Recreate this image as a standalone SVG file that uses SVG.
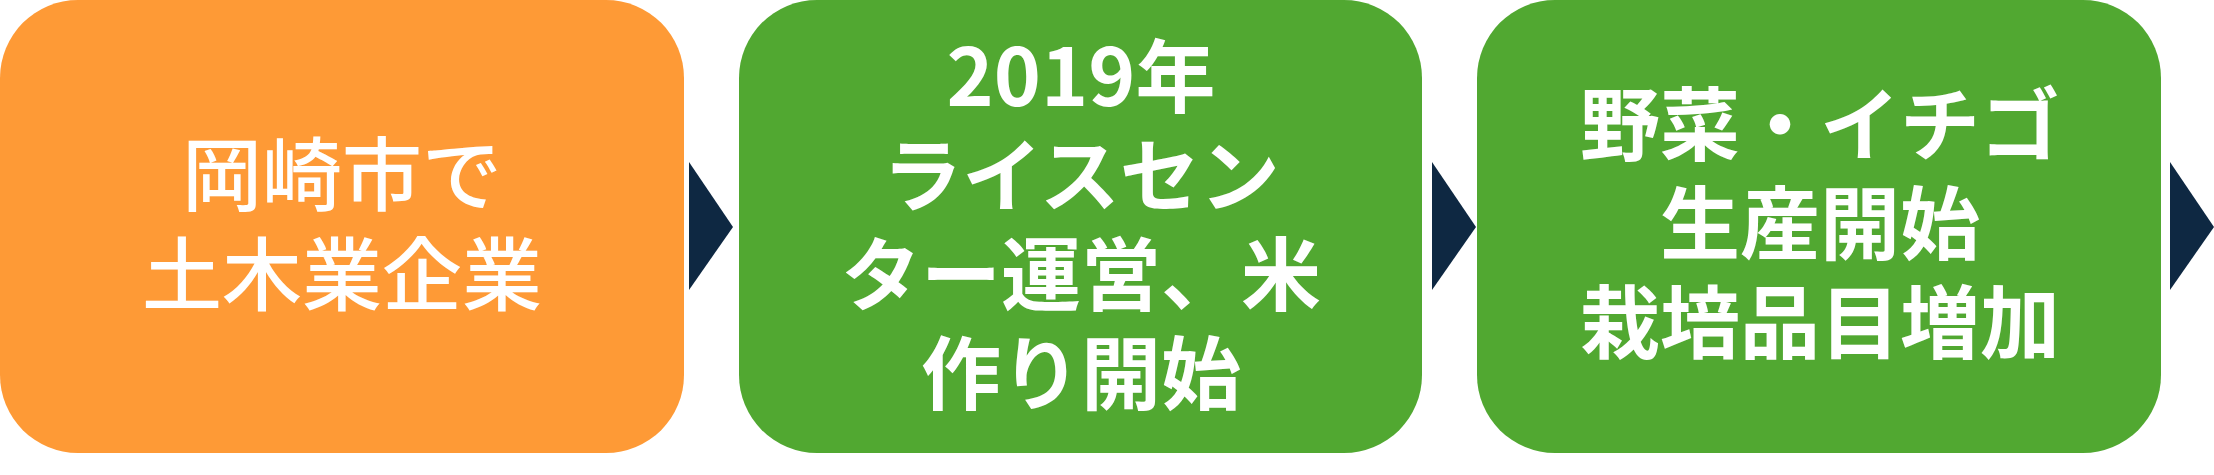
<svg xmlns="http://www.w3.org/2000/svg" width="2214" height="475" viewBox="0 0 2214 475">
  <style>
    .lbl { font-family: "Noto Sans CJK JP", "Noto Sans", sans-serif; font-size: 80px; fill: #FFFFFF; text-anchor: middle; }
    .reg { font-weight: 500; }
    .bold { font-weight: 700; }
    .orange { fill: #FE9A36; }
    .green { fill: #51A831; }
    .arrow { fill: #0E2842; }
  </style>
  <rect width="2214" height="475" fill="#FFFFFF"/>
  <g id="node1">
    <rect class="orange" x="0" y="0" width="684" height="453" rx="78" ry="78"/>
    <text class="lbl reg" x="342" y="204">岡崎市で</text>
    <text class="lbl reg" x="342" y="304">土木業企業</text>
  </g>
  <g id="node2">
    <rect class="green" x="739" y="0" width="683" height="453" rx="78" ry="78"/>
    <text class="lbl bold" x="1081" y="106">2019年</text>
    <text class="lbl bold" x="1081" y="205">ライスセン</text>
    <text class="lbl bold" x="1081" y="304">ター運営、米</text>
    <text class="lbl bold" x="1081" y="403">作り開始</text>
  </g>
  <g id="node3">
    <rect class="green" x="1477" y="0" width="684" height="453" rx="78" ry="78"/>
    <text class="lbl bold" x="1820" y="154">野菜・イチゴ</text>
    <text class="lbl bold" x="1820" y="253">生産開始</text>
    <text class="lbl bold" x="1820" y="352">栽培品目増加</text>
  </g>
  <g id="connectors">
    <polygon class="arrow" points="689,162 733,227 689,290"/>
    <polygon class="arrow" points="1432,162 1476,227 1432,290"/>
    <polygon class="arrow" points="2170,162 2214,227 2170,290"/>
  </g>
</svg>
